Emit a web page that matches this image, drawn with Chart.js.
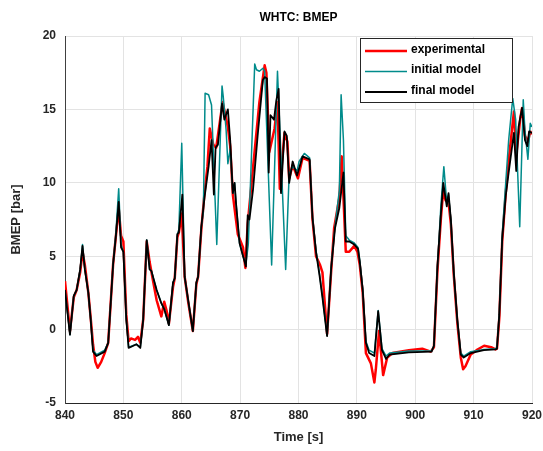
<!DOCTYPE html>
<html>
<head>
<meta charset="utf-8">
<title>WHTC: BMEP</title>
<script src="https://cdn.jsdelivr.net/npm/chart.js@4.4.1/dist/chart.umd.min.js"></script>
<style>
  html, body { margin: 0; padding: 0; background: #fff; }
  #wrap { width: 543px; height: 451px; }
</style>
</head>
<body>
<div id="wrap"><canvas id="bmepChart" width="543" height="451"></canvas></div>
<script>
// Time axis ticks
const timeTicks = [840, 850, 860, 870, 880, 890, 900, 910, 920];
const bmepTicks = [-5, 0, 5, 10, 15, 20];

// experimental (red)
const expTime = [840.0, 840.85, 841.5, 842.0, 842.6, 843.0, 843.4, 844.0, 844.4, 844.8, 845.2, 845.6, 846.2, 846.8, 847.4,
  848.25, 848.7, 849.2, 849.6, 850.0, 850.5, 850.9, 851.3, 852.0, 852.5, 852.9, 853.4, 854.0, 854.5, 855.0, 855.7, 856.5,
  857.0, 857.4, 857.8, 858.5, 858.8, 859.25, 859.5, 860.0, 860.5, 861.1, 861.9, 862.5, 862.8, 863.35, 863.9, 864.4, 864.8,
  865.4, 865.9, 867.0, 867.9, 868.3, 868.75, 869.6, 870.5, 870.9, 871.3, 872.2, 873.3, 874.2, 874.5, 875.0, 875.9, 876.4,
  876.8, 877.6, 878.1, 878.4, 879.0, 879.9, 880.7, 881.9, 882.4, 883.0, 883.7, 884.1, 884.9, 885.6, 886.1, 887.0, 887.4,
  888.1, 888.7, 889.55, 890.1, 890.5, 891.0, 891.55, 892.4, 893.0, 893.25, 893.8, 894.5, 895.2, 896.1, 898.9, 901.2,
  902.65, 903.2, 903.8, 904.4, 904.8, 905.2, 905.7, 906.1, 906.6, 907.2, 907.8, 908.2, 908.6, 909.5, 910.5, 911.8, 913.0,
  913.75, 914.0, 914.4, 914.9, 915.5, 916.0, 916.9, 917.3, 918.0, 918.3, 918.8, 919.3, 919.7, 920.0];
const expBmep = [3.3, -0.1, 2.2, 2.7, 3.9, 5.3, 4.4, 2.5, 0.8, -1.0, -2.2, -2.6, -2.2, -1.6, -0.9,
  4.5, 6.3, 8.3, 6.4, 6.0, 1.0, -0.8, -0.6, -0.7, -0.5, -0.9, 0.7, 6.0, 4.6, 3.5, 2.0, 0.9,
  1.9, 1.3, 0.4, 2.9, 3.5, 6.3, 6.6, 7.9, 3.6, 1.9, -0.1, 3.1, 3.6, 6.8, 9.3, 11.1, 13.7,
  12.6, 12.4, 15.5, 13.8, 12.5, 9.2, 6.5, 5.6, 4.2, 7.2, 11.0, 15.5, 18.0, 17.5, 12.1, 13.7, 15.5,
  9.6, 13.4, 12.8, 10.3, 11.2, 10.3, 11.7, 11.5, 7.5, 5.0, 4.4, 3.9, -0.3, 4.0, 6.9, 9.0, 11.8,
  5.3, 5.3, 5.7, 5.3, 4.4, 2.5, -1.6, -2.3, -3.6, -2.7, -0.1, -3.1, -1.9, -1.6, -1.4, -1.3,
  -1.5, -1.2, 4.0, 7.6, 9.5, 8.8, 8.7, 7.2, 3.7, 0.5, -1.9, -2.7, -2.5, -1.7, -1.4, -1.1, -1.2,
  -1.35, -1.3, 0.8, 6.0, 9.3, 11.5, 14.85, 11.9, 14.4, 15.1, 13.2, 12.8, 13.5, 13.3];

// initial model (teal)
const initTime = [840.0, 840.85, 841.5, 842.0, 842.6, 843.0, 843.4, 844.0, 844.4, 844.8, 845.4, 846.8, 847.4, 848.25,
  848.7, 849.2, 849.6, 850.0, 850.5, 850.9, 852.25, 852.9, 853.4, 854.0, 854.5, 854.8, 855.7, 856.5, 857.0, 857.8, 858.5,
  858.8, 859.25, 859.5, 860.0, 860.5, 861.1, 861.9, 862.5, 862.8, 863.35, 863.7, 864.0, 864.6, 865.1, 866.0, 866.9,
  867.1, 867.6, 867.9, 868.3, 868.75, 869.05, 869.3, 869.9, 870.5, 871.0, 871.4, 872.5, 872.8, 873.3, 873.9, 874.2,
  875.4, 876.4, 877.8, 878.4, 879.0, 879.75, 880.1, 881.0, 881.9, 882.4, 883.0, 883.6, 884.1, 884.9, 885.6, 886.25,
  887.0, 887.3, 887.7, 888.1, 888.7, 889.55, 890.2, 890.5, 891.0, 891.55, 892.1, 893.0, 893.65, 894.3, 895.0, 895.6,
  898.9, 902.8, 903.2, 903.8, 904.4, 904.9, 905.4, 905.7, 906.1, 906.6, 907.2, 907.8, 908.3, 909.5, 911.75, 913.75,
  914.0, 914.4, 914.9, 915.5, 916.0, 916.7, 917.2, 917.9, 918.5, 918.8, 919.3, 919.7, 920.0];
const initBmep = [2.7, -0.35, 2.3, 2.7, 4.1, 5.8, 4.1, 2.5, 0.7, -1.4, -1.7, -1.4, -0.9, 4.5,
  6.5, 9.6, 5.8, 5.3, 0.7, -1.2, -1.0, -1.2, 0.7, 6.1, 4.1, 4.0, 2.7, 1.8, 1.4, 0.3, 3.2,
  3.5, 6.5, 6.8, 12.7, 3.6, 2.0, -0.1, 3.2, 3.6, 7.0, 8.0, 16.1, 16.0, 15.3, 5.8, 16.6,
  15.9, 13.6, 11.3, 12.3, 9.3, 10.0, 8.6, 5.9, 5.0, 4.5, 5.8, 18.1, 17.7, 17.6, 17.8, 17.6,
  4.4, 17.6, 4.1, 10.6, 11.1, 10.8, 11.45, 12.0, 11.7, 7.7, 5.4, 3.8, 2.3, -0.4, 4.3, 7.0,
  9.5, 16.0, 12.9, 6.4, 6.1, 5.9, 5.6, 4.7, 2.8, -0.8, -1.4, -1.6, 1.3, -1.3, -1.8, -1.6,
  -1.45, -1.45, -1.1, 4.3, 8.5, 11.1, 8.6, 9.2, 7.5, 3.9, 0.7, -1.6, -1.8, -1.5, -1.35, -1.3,
  -1.2, 1.2, 6.5, 10.0, 12.9, 15.75, 14.3, 7.0, 15.65, 13.5, 11.6, 14.05, 13.8];

// final model (black)
const finalTime = [840.0, 840.85, 841.5, 842.0, 842.6, 843.0, 843.4, 844.0, 844.4, 844.8, 845.4, 846.8, 847.4, 848.25,
  848.7, 849.2, 849.6, 850.0, 850.5, 850.9, 852.25, 852.9, 853.4, 854.0, 854.5, 854.8, 855.7, 856.5, 857.0, 857.8, 858.5,
  858.8, 859.25, 859.5, 860.1, 860.5, 861.1, 861.9, 862.5, 862.8, 863.35, 863.9, 864.6, 865.1, 865.5, 865.8, 866.2,
  866.9, 867.3, 867.9, 868.3, 868.75, 869.05, 869.3, 869.9, 870.5, 871.0, 871.3, 871.6, 872.2, 873.0, 873.9, 874.2,
  874.6, 874.9, 875.2, 875.8, 876.2, 876.6, 877.0, 877.6, 878.0, 878.4, 879.0, 879.75, 880.7, 881.3, 881.9, 882.4,
  883.0, 883.6, 884.1, 884.9, 885.6, 886.25, 887.0, 887.7, 888.1, 888.7, 889.55, 890.2, 890.5, 891.0, 891.55, 892.1,
  893.0, 893.65, 894.3, 895.0, 895.6, 898.9, 902.8, 903.2, 903.8, 904.4, 904.8, 905.4, 905.7, 906.1, 906.6, 907.2,
  907.8, 908.3, 909.5, 911.75, 913.75, 914.0, 914.4, 914.9, 915.5, 916.0, 916.9, 917.3, 917.7, 918.3, 918.8, 919.2,
  919.5, 920.0];
const finalBmep = [2.7, -0.35, 2.3, 2.7, 4.1, 5.7, 4.1, 2.5, 0.7, -1.5, -1.8, -1.5, -0.9, 4.5,
  6.3, 8.7, 5.6, 5.3, 0.7, -1.25, -1.0, -1.25, 0.7, 6.1, 4.1, 4.0, 2.7, 1.8, 1.4, 0.3, 3.2,
  3.5, 6.5, 6.6, 9.2, 3.6, 2.0, -0.1, 3.2, 3.6, 7.0, 9.0, 11.1, 12.9, 9.2, 12.4, 12.6,
  15.4, 14.3, 15.0, 12.9, 9.3, 10.0, 8.6, 5.9, 5.0, 4.3, 7.8, 7.5, 9.5, 13.2, 17.0, 17.2,
  17.1, 10.7, 14.6, 14.3, 15.6, 16.4, 9.3, 13.5, 13.2, 10.0, 11.45, 10.5, 11.8, 11.7, 11.6, 7.6,
  5.3, 3.7, 2.2, -0.45, 4.2, 6.9, 8.3, 10.7, 6.0, 6.0, 5.8, 5.5, 4.6, 2.7, -0.9, -1.6,
  -1.8, 1.25, -1.4, -2.0, -1.7, -1.55, -1.5, -1.1, 4.3, 7.9, 10.0, 8.4, 9.3, 7.5, 3.9, 0.7,
  -1.7, -1.9, -1.6, -1.4, -1.35, -1.3, 1.0, 6.2, 9.1, 10.7, 13.4, 10.8, 13.8, 15.1, 12.9, 12.5,
  13.5, 13.4];

function toPoints(xs, ys) {
  return xs.map((x, i) => ({ x: x, y: ys[i] }));
}

Chart.defaults.font.family = '"Liberation Sans", Arial, Helvetica, sans-serif';
Chart.defaults.color = '#262626';

// title centred over the axes and a boxed legend inside the plot, MATLAB style
const matlabDecor = {
  id: 'matlabDecor',
  afterDraw(chart) {
    const ctx = chart.ctx;
    const area = chart.chartArea;
    ctx.save();
    ctx.fillStyle = '#000';
    ctx.font = 'bold 12px "Liberation Sans", Arial, sans-serif';
    ctx.textAlign = 'center';
    ctx.textBaseline = 'middle';
    ctx.fillText('WHTC: BMEP', (area.left + area.right) / 2, 18);

    const x0 = 360, y0 = 38, w = 152, h = 64;
    ctx.fillStyle = '#ffffff';
    ctx.fillRect(x0, y0, w, h);
    ctx.strokeStyle = '#262626';
    ctx.lineWidth = 1;
    ctx.strokeRect(x0 + 0.5, y0 + 0.5, w, h);
    ctx.textAlign = 'left';
    chart.data.datasets.forEach((ds, i) => {
      const y = y0 + 11.5 + i * 20.5;
      ctx.strokeStyle = ds.borderColor;
      ctx.lineWidth = ds.borderWidth;
      ctx.beginPath();
      ctx.moveTo(x0 + 5, y + 1.5);
      ctx.lineTo(x0 + 47, y + 1.5);
      ctx.stroke();
      ctx.fillStyle = '#000';
      ctx.fillText(ds.label, x0 + 51, y);
    });
    ctx.restore();
  }
};

const ctx = document.getElementById('bmepChart').getContext('2d');
const bmepChart = new Chart(ctx, {
  type: 'line',
  data: {
    datasets: [
      { label: 'experimental', data: toPoints(expTime, expBmep), borderColor: '#ff0000', borderWidth: 2.5, order: 3 },
      { label: 'initial model', data: toPoints(initTime, initBmep), borderColor: '#008b8b', borderWidth: 1.5, order: 2 },
      { label: 'final model', data: toPoints(finalTime, finalBmep), borderColor: '#000000', borderWidth: 1.8, order: 1 }
    ]
  },
  options: {
    responsive: false,
    animation: false,
    parsing: false,
    elements: {
      point: { radius: 0 },
      line: { tension: 0, fill: false, borderJoinStyle: 'round' }
    },
    layout: { padding: { left: 0, right: 11, top: 36, bottom: 0 } },
    plugins: {
      legend: { display: false },
      tooltip: { enabled: false },
      title: { display: false }
    },
    scales: {
      x: {
        type: 'linear',
        min: 840,
        max: 920,
        afterBuildTicks: (scale) => { scale.ticks = timeTicks.map(v => ({ value: v })); },
        afterFit: (scale) => { scale.paddingLeft = 0; scale.paddingRight = 0; scale.height = 48; },
        grid: { color: '#e3e3e3', drawTicks: false },
        border: { color: '#262626', width: 1 },
        ticks: { padding: 5, font: { size: 12, weight: 'bold' }, color: '#262626' },
        title: {
          display: true,
          text: 'Time [s]',
          color: '#262626',
          font: { size: 13, weight: 'bold' },
          padding: { top: 6, bottom: 6 }
        }
      },
      y: {
        min: -5,
        max: 20,
        afterBuildTicks: (scale) => { scale.ticks = bmepTicks.map(v => ({ value: v })); },
        afterFit: (scale) => { scale.paddingTop = 0; scale.paddingBottom = 0; scale.width = 65; },
        grid: { color: '#e3e3e3', drawTicks: false },
        border: { color: '#404040', width: 1 },
        ticks: { padding: 9, font: { size: 12, weight: 'bold' }, color: '#262626' },
        title: {
          display: true,
          text: 'BMEP [bar]',
          color: '#262626',
          font: { size: 13, weight: 'bold' },
          padding: { top: 9, bottom: 9 }
        }
      }
    }
  },
  plugins: [matlabDecor]
});
</script>
</body>
</html>
